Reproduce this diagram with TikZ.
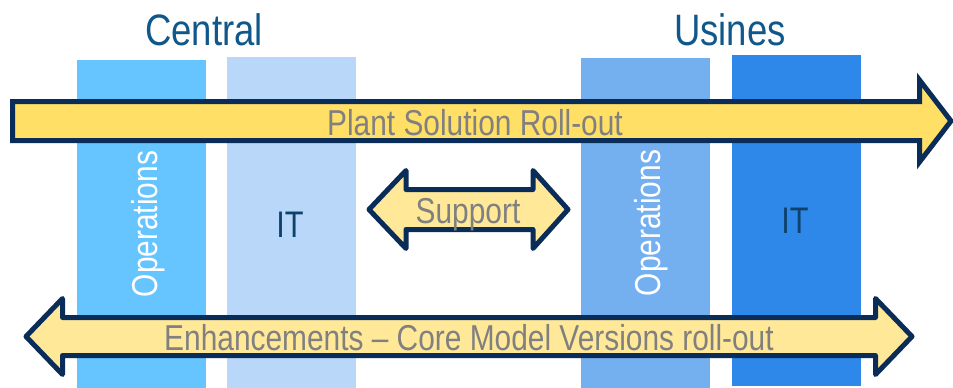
\documentclass[tikz,border=0pt]{standalone}
\usepackage{fontspec}
\setmainfont{Liberation Sans}[FakeStretch=0.83]

\definecolor{opscentral}{RGB}{102,196,255}
\definecolor{itcentral}{RGB}{185,215,248}
\definecolor{opsusines}{RGB}{116,176,240}
\definecolor{itusines}{RGB}{46,136,234}
\definecolor{rollfill}{RGB}{255,223,102}
\definecolor{helpfill}{RGB}{255,233,153}
\definecolor{bandline}{RGB}{10,44,88}
\definecolor{labgray}{RGB}{128,128,128}
\definecolor{headblue}{RGB}{16,88,138}
\definecolor{itblue}{RGB}{14,66,108}

\begin{document}
\begin{tikzpicture}[x=1pt,y=-1pt,
	band/.style={draw=bandline,line width=5pt},
	title/.style={anchor=base,text=headblue,font=\fontsize{44}{48}\selectfont},
	lab/.style={anchor=base,text=labgray,font=\fontsize{36}{40}\selectfont},
	ops/.style={anchor=base,rotate=90,text=white,font=\fontsize{36}{40}\selectfont},
	itlab/.style={anchor=base,text=itblue,font=\fontsize{37}{40}\selectfont}]
	\useasboundingbox (0,0) rectangle (953,388);

	\fill[opscentral] (77,60) rectangle (206,388);
	\fill[itcentral] (227,57) rectangle (356,388);
	\fill[opsusines] (581,58) rectangle (710,388);
	\fill[itusines] (732,55) rectangle (861,386);

	\node[title] (central) at (204,45) {Central};
	\node[title] (usines) at (730,45) {Usines};

	\node[ops] (opsc) at (157,224) {Operations};
	\node[itlab] (itc) at (290,237) {IT};
	\node[ops] (opsu) at (660,223) {Operations};
	\node[itlab] (itu) at (795,233) {IT};

	\draw[band,fill=rollfill] (12.5,101.5) -- (919.5,101.5) -- (919.5,80) -- (951,121)
		-- (919.5,162) -- (919.5,140.5) -- (12.5,140.5) -- cycle;
	\node[lab] (plant) at (475,135) {Plant Solution Roll-out};

	\draw[band,fill=helpfill,line join=round] (369,209.5) -- (406,170.5) -- (406,189.5)
		-- (533,189.5) -- (533,170.5) -- (568,209.5) -- (533,248.5) -- (533,229.5)
		-- (406,229.5) -- (406,248.5) -- cycle;
	\node[lab] (support) at (468,223) {Support};

	\draw[band,fill=helpfill,line join=round] (26,336.5) -- (62.5,298.5) -- (62.5,317.5)
		-- (875.5,317.5) -- (875.5,298.5) -- (912,336.5) -- (875.5,374.5) -- (875.5,355.5)
		-- (62.5,355.5) -- (62.5,374.5) -- cycle;
	\node[lab] (enh) at (469,350) {Enhancements -- Core Model Versions roll-out};
\end{tikzpicture}
\end{document}
